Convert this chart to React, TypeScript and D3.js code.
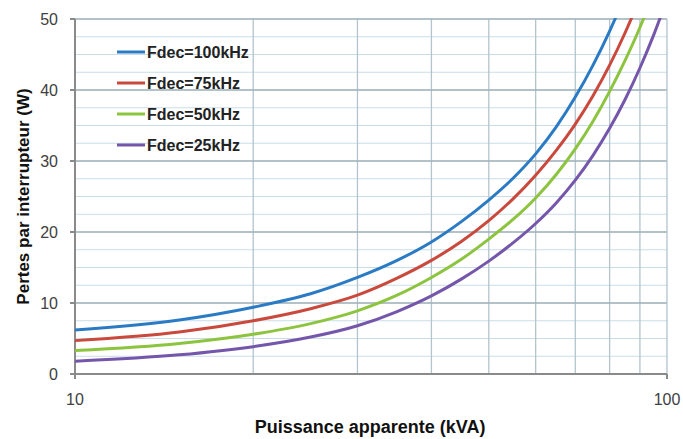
import React from "react";
import * as d3 from "d3";

const kva = [10, 15, 20, 25, 30, 35, 40, 45, 50, 55, 60, 65, 70, 75, 80, 85, 90, 95, 100];
const f100 = [6.2, 7.6, 9.4, 11.3, 13.6, 16.0, 18.6, 21.5, 24.5, 27.6, 31.0, 34.8, 39.0, 43.5, 48.3, 53.4, 58.8, 64.5, 70.5];
const f75 = [4.7, 5.9, 7.5, 9.2, 11.1, 13.5, 16.0, 18.7, 21.6, 24.7, 28.0, 31.5, 35.2, 39.2, 43.5, 48.1, 53.0, 58.2, 63.7];
const f50 = [3.3, 4.3, 5.6, 7.1, 8.9, 11.1, 13.6, 16.2, 19.0, 21.8, 24.8, 28.1, 31.7, 35.6, 39.8, 44.2, 48.8, 53.7, 58.9];
const f25 = [1.8, 2.7, 3.85, 5.2, 6.8, 8.8, 11.0, 13.4, 15.9, 18.5, 21.2, 24.1, 27.3, 30.8, 34.6, 38.7, 43.1, 47.8, 52.8];
const seriesNames = ["Fdec=100kHz", "Fdec=75kHz", "Fdec=50kHz", "Fdec=25kHz"];
const seriesColors = ["#2b7bc4", "#c94a3c", "#8dc43f", "#7456aa"];
const yTicks = [0, 10, 20, 30, 40, 50];
const yMinor = d3.range(0, 50.01, 2.5);
const xGrid = [20, 30, 40, 50, 60, 70, 80, 90];
const xTickLabels = [10, 100];

export default function App() {
  const W = 683, H = 439;
  const L = 75, R = 667, T = 19, B = 374;
  const x = d3.scaleLog().domain([10, 100]).range([L, R]);
  const y = d3.scaleLinear().domain([0, 50]).range([B, T]);
  const data = [f100, f75, f50, f25];
  const line = d3
    .line<[number, number]>()
    .x((d) => x(d[0]))
    .y((d) => y(d[1]))
    .curve(d3.curveMonotoneX);
  const font = "'Liberation Sans', Arial, sans-serif";
  return (
    <svg width={W} height={H} style={{ position: "absolute", left: 0, top: 0, background: "#fff" }} fontFamily={font}>
      <defs>
        <clipPath id="plotclip">
          <rect x={L} y={T - 1} width={R - L} height={B - T + 1} />
        </clipPath>
      </defs>
      {yMinor.map((v) => (
        <line key={"ym" + v} x1={L} x2={R} y1={y(v)} y2={y(v)} stroke="#c9dde8" strokeWidth={1.2} />
      ))}
      {xGrid.map((v) => (
        <line key={"xg" + v} x1={x(v)} x2={x(v)} y1={T} y2={B} stroke="#b3c4cc" strokeWidth={1.3} />
      ))}
      {yTicks.map((v) => (
        <line key={"yg" + v} x1={L} x2={R} y1={y(v)} y2={y(v)} stroke="#a3b2ba" strokeWidth={1.5} />
      ))}
      <line x1={R} x2={R} y1={T} y2={B} stroke="#b3c4cc" strokeWidth={1.3} />
      <line x1={L} x2={L} y1={T} y2={B} stroke="#8a8a8a" strokeWidth={2} />
      <line x1={L} x2={R} y1={B} y2={B} stroke="#8a8a8a" strokeWidth={2} />
      {yTicks.map((v) => (
        <line key={"yt" + v} x1={L - 5} x2={L} y1={y(v)} y2={y(v)} stroke="#8a8a8a" strokeWidth={2} />
      ))}
      {xTickLabels.map((v) => (
        <line key={"xt" + v} x1={x(v)} x2={x(v)} y1={B} y2={B + 5} stroke="#8a8a8a" strokeWidth={2} />
      ))}
      {yTicks.map((v) => (
        <text key={"yl" + v} x={L - 17} y={y(v)} dy="0.35em" textAnchor="end" fontSize={16} fill="#404040">
          {v}
        </text>
      ))}
      {xTickLabels.map((v) => (
        <text key={"xl" + v} x={x(v)} y={B + 31} textAnchor="middle" fontSize={16} fill="#404040">
          {v}
        </text>
      ))}
      <g clipPath="url(#plotclip)">
        {data.map((vals, i) => (
          <path
            key={"s" + i}
            d={line(kva.map((k, j) => [k, vals[j]] as [number, number])) || ""}
            fill="none"
            stroke={seriesColors[i]}
            strokeWidth={3}
          />
        ))}
      </g>
      {seriesNames.map((n, i) => (
        <g key={"lg" + i}>
          <line x1={117} x2={145} y1={52 + i * 31} y2={52 + i * 31} stroke={seriesColors[i]} strokeWidth={3} />
          <text x={147} y={52 + i * 31} dy="0.35em" fontSize={16} fontWeight="bold" fill="#222">
            {n}
          </text>
        </g>
      ))}
      <text x={370} y={433} textAnchor="middle" fontSize={18} fontWeight="bold" fill="#111">
        Puissance apparente (kVA)
      </text>
      <text
        transform={`translate(29,${(T + B) / 2}) rotate(-90)`}
        textAnchor="middle"
        fontSize={17}
        fontWeight="bold"
        fill="#111"
      >
        Pertes par interrupteur (W)
      </text>
    </svg>
  );
}
